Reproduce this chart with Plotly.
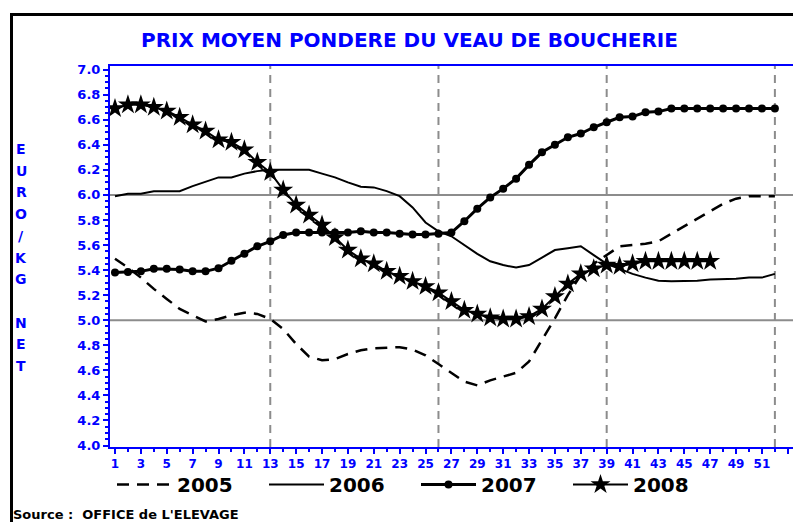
import plotly.graph_objects as go

weeks = list(range(1, 53))

v2005 = [5.49, 5.42, 5.34, 5.25, 5.17, 5.09, 5.04, 4.99, 5.01, 5.04,
         5.06, 5.05, 5.01, 4.93, 4.81, 4.71, 4.68, 4.69, 4.73, 4.76,
         4.775, 4.78, 4.785, 4.765, 4.72, 4.65, 4.58, 4.51, 4.48, 4.52,
         4.55, 4.58, 4.67, 4.84, 5.015, 5.20, 5.36, 5.45, 5.52, 5.59,
         5.60, 5.61, 5.63, 5.69, 5.75, 5.805, 5.87, 5.93, 5.97, 5.99,
         5.99, 5.99]

v2006 = [5.99, 6.01, 6.01, 6.03, 6.03, 6.03, 6.07, 6.105, 6.14, 6.14,
         6.17, 6.19, 6.20, 6.20, 6.20, 6.20, 6.17, 6.14, 6.10, 6.065,
         6.06, 6.03, 5.99, 5.90, 5.78, 5.71, 5.67, 5.60, 5.53, 5.47,
         5.44, 5.42, 5.44, 5.50, 5.56, 5.575, 5.59, 5.52, 5.45, 5.41,
         5.37, 5.34, 5.315, 5.31, 5.31, 5.315, 5.325, 5.325, 5.33, 5.34,
         5.34, 5.37]

v2007 = [5.38, 5.385, 5.39, 5.41, 5.41, 5.405, 5.39, 5.39, 5.415, 5.475,
         5.53, 5.59, 5.63, 5.68, 5.70, 5.70, 5.70, 5.70, 5.70, 5.71,
         5.70, 5.70, 5.69, 5.685, 5.685, 5.69, 5.70, 5.79, 5.89, 5.98,
         6.05, 6.13, 6.24, 6.34, 6.40, 6.46, 6.49, 6.54, 6.58, 6.62,
         6.625, 6.66, 6.665, 6.69, 6.69, 6.69, 6.69, 6.69, 6.69, 6.69,
         6.69, 6.69]

v2008 = [6.69, 6.72, 6.72, 6.70, 6.67, 6.62, 6.56, 6.51, 6.44, 6.42,
         6.36, 6.26, 6.18, 6.04, 5.92, 5.84, 5.76, 5.66, 5.56, 5.49,
         5.45, 5.39, 5.35, 5.31, 5.27, 5.22, 5.15, 5.08, 5.05, 5.02,
         5.01, 5.01, 5.03, 5.09, 5.19, 5.29, 5.37, 5.41, 5.44, 5.43,
         5.45, 5.47, 5.47, 5.47, 5.47, 5.47, 5.47]

title_text = "PRIX MOYEN PONDERE DU VEAU DE BOUCHERIE"
ylabel_letters = ["E", "U", "R", "O", "/", "K", "G", "", "N", "E", "T"]
source_text = "Source :  OFFICE de L'ELEVAGE"
ref_h = [5.0, 6.0]
ref_v = [13, 26, 39, 52]
y_ticks = [round(4.0 + 0.2 * i, 1) for i in range(16)]
x_ticks = list(range(1, 54, 2))

BLUE = "#0000ff"
FONT = "DejaVu Sans, Liberation Sans, Arial, sans-serif"

W, H = 793, 522
L, R, T, B = 110, 0, 66, 75
PW, PH = W - L - R, H - T - B


def px_x(x):
    return (x - L) / PW


def px_y(y):
    return (H - B - y) / PH


fig = go.Figure()

fig.add_trace(go.Scatter(x=weeks[:len(v2005)], y=v2005, name="2005", mode="lines",
                         line=dict(color="black", width=2.5, dash="12px,8px")))
fig.add_trace(go.Scatter(x=weeks[:len(v2006)], y=v2006, name="2006", mode="lines",
                         line=dict(color="black", width=2)))
fig.add_trace(go.Scatter(x=weeks[:len(v2007)], y=v2007, name="2007", mode="lines+markers",
                         line=dict(color="black", width=3),
                         marker=dict(symbol="circle", size=8, color="black")))
fig.add_trace(go.Scatter(x=weeks[:len(v2008)], y=v2008, name="2008", mode="lines+markers",
                         line=dict(color="black", width=2),
                         marker=dict(symbol="star", size=15, color="black")))

for v in ref_h:
    fig.add_hline(y=v, line=dict(color="#8c8c8c", width=2), layer="below")
for w in ref_v:
    fig.add_vline(x=w, line=dict(color="#8c8c8c", width=2, dash="8px,6px"), layer="below")

# outer frame
fig.add_shape(type="rect", xref="paper", yref="paper",
              x0=px_x(11.5), x1=px_x(1000), y0=px_y(800), y1=px_y(14.5),
              line=dict(color="black", width=3), fillcolor="rgba(0,0,0,0)")

fig.add_annotation(text=title_text, xref="paper", yref="paper",
                   x=px_x(409), y=px_y(40), xanchor="center", yanchor="middle",
                   showarrow=False,
                   font=dict(family=FONT, size=20, color=BLUE, weight="bold"))

for i, ch in enumerate(ylabel_letters):
    if ch:
        fig.add_annotation(text=ch, xref="paper", yref="paper",
                           x=px_x(21), y=px_y(149 + 21.7 * i),
                           xanchor="center", yanchor="middle", showarrow=False,
                           font=dict(family=FONT, size=14, color=BLUE, weight="bold"))

fig.add_annotation(text=source_text, xref="paper", yref="paper",
                   x=px_x(11), y=px_y(505), xanchor="left", yanchor="top",
                   showarrow=False,
                   font=dict(family=FONT, size=13, color="black", weight="bold"))

fig.update_layout(
    width=W, height=H,
    margin=dict(l=L, r=R, t=T, b=B, autoexpand=False),
    paper_bgcolor="white", plot_bgcolor="white",
    showlegend=True,
    legend=dict(orientation="h", x=px_x(112), y=px_y(465), xanchor="left", yanchor="top",
                entrywidth=82, entrywidthmode="pixels", itemwidth=55,
                font=dict(family=FONT, size=20, color="black", weight="bold"),
                bgcolor="rgba(0,0,0,0)"),
    xaxis=dict(range=[0.614, 53.4], tickvals=x_ticks, showgrid=False, zeroline=False,
               showline=True, linecolor=BLUE, linewidth=2, mirror=True,
               ticks="outside", ticklen=5, tickcolor=BLUE, tickwidth=2,
               minor=dict(dtick=1, tick0=0, ticks="outside", ticklen=3, tickcolor=BLUE, tickwidth=1.5),
               tickfont=dict(family=FONT, size=12, color=BLUE, weight="bold")),
    yaxis=dict(range=[3.988, 7.029], tickvals=y_ticks, tickformat=".1f", showgrid=False,
               zeroline=False, showline=True, linecolor=BLUE, linewidth=2,
               ticks="outside", ticklen=5, tickcolor=BLUE, tickwidth=2,
               minor=dict(dtick=0.05, tick0=4.0, ticks="outside", ticklen=3, tickcolor=BLUE, tickwidth=1.5),
               tickfont=dict(family=FONT, size=13, color=BLUE, weight="bold")),
)

fig.write_html("out.html", config={"displayModeBar": False},
               post_script="document.body.style.margin='0';document.body.style.overflow='hidden';")
